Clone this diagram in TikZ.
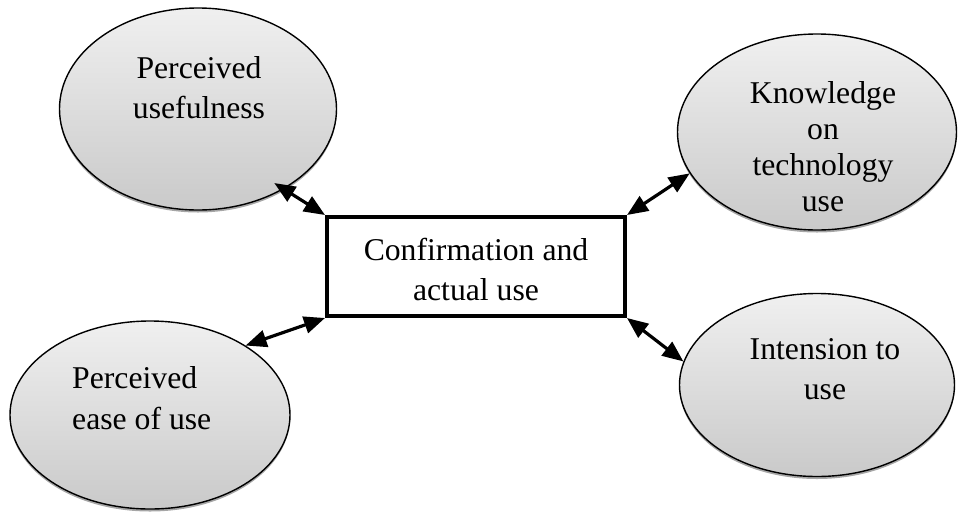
\documentclass[tikz,border=0pt]{standalone}
\usepackage{fontspec}
\setmainfont{Liberation Serif}
\usetikzlibrary{shapes.geometric,arrows.meta,shadows}
\begin{document}
\begin{tikzpicture}[x=1pt,y=-1pt,
  oval/.style={ellipse,draw=black,line width=1.4pt,inner sep=0pt,
    top color=gray!12,bottom color=gray!42,
    drop shadow={shadow xshift=0pt,shadow yshift=-2.5pt,opacity=0.35,fill=black}},
  boxnode/.style={rectangle,draw=black,line width=4pt,fill=white,inner sep=0pt,
    minimum width=298pt,minimum height=99pt},
  lbl/.style={font=\fontsize{31.7}{40}\selectfont,inner sep=0pt,anchor=base},
  dbl/.style={line width=3.2pt,{Triangle[length=21pt,width=17pt]}-{Triangle[length=21pt,width=17pt]}}]
\useasboundingbox (0,0) rectangle (958,512);
\node[oval,minimum width=277pt,minimum height=202pt] (pu) at (198,109) {};
\node[oval,minimum width=279pt,minimum height=196pt] (kt) at (817,132) {};
\node[oval,minimum width=280pt,minimum height=188pt] (pe) at (150,415) {};
\node[oval,minimum width=275pt,minimum height=183pt] (it) at (817,385) {};
\node[boxnode] (box) at (476,266.5) {};
\node[lbl,align=center] (tpu) at (199,118) {Perceived\\usefulness};
\node[lbl,align=center,font=\fontsize{31.7}{36}\selectfont] (tkt) at (823,211) {Knowledge\\on\\technology\\use};
\node[lbl,align=left,anchor=base west,font=\fontsize{31.7}{41}\selectfont] (tpe) at (72,429) {Perceived\\ease of use};
\node[lbl,align=center] (tit) at (825,399) {Intension to\\use};
\node[lbl,align=center] (tbox) at (476,300) {Confirmation and\\actual use};
\draw[dbl,shorten <=-2pt] (pu.-44) ++(-6,-6) -- (box.north west);
\draw[dbl] (box.north east) -- (kt.198);
\draw[dbl] (pe.36) -- (box.south west);
\draw[dbl] (box.south east) -- (it.170);
\end{tikzpicture}
\end{document}
